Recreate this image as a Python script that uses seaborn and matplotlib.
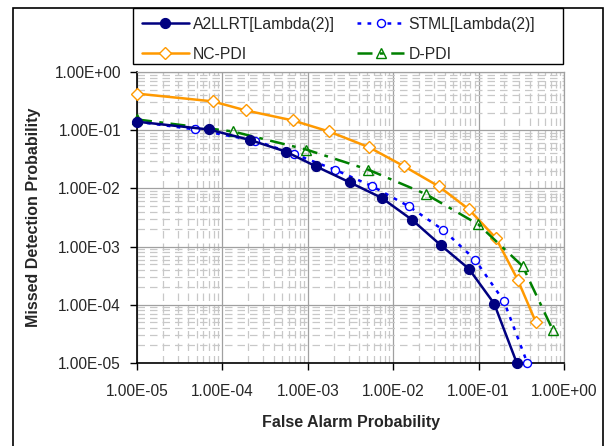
import numpy as np
import pandas as pd
import matplotlib
matplotlib.use("Agg")
import matplotlib.pyplot as plt
import seaborn as sns
from matplotlib.ticker import LogLocator, FuncFormatter, NullFormatter
from matplotlib.patches import Rectangle

# --- data ---
a2_pfa = [1e-5, 6.9e-5, 2.1e-4, 5.5e-4, 1.24e-3, 3.1e-3, 7.3e-3, 1.67e-2, 3.6e-2, 7.7e-2, 1.52e-1, 2.8e-1]
a2_pmd = [0.14, 0.103, 0.068, 0.043, 0.024, 0.0127, 0.0069, 0.00287, 0.00106, 4.15e-4, 1.05e-4, 1.0e-5]

stml_pfa = [1e-5, 4.8e-5, 2.43e-4, 6.9e-4, 2.07e-3, 5.6e-3, 1.53e-2, 3.85e-2, 9.06e-2, 1.98e-1, 3.72e-1]
stml_pmd = [0.14, 0.103, 0.066, 0.039, 0.021, 0.011, 4.9e-3, 1.93e-3, 6.0e-4, 1.15e-4, 1.0e-5]

nc_pfa = [1e-5, 7.7e-5, 1.87e-4, 6.7e-4, 1.77e-3, 5.2e-3, 1.34e-2, 3.43e-2, 7.69e-2, 1.6e-1, 2.86e-1, 4.7e-1]
nc_pmd = [0.425, 0.313, 0.219, 0.147, 0.095, 0.051, 0.024, 0.0108, 4.38e-3, 1.39e-3, 2.72e-4, 4.97e-5]

dp_pfa = [1e-5, 1.33e-4, 9.6e-4, 5.1e-3, 2.41e-2, 9.9e-2, 3.28e-1, 7.38e-1]
dp_pmd = [0.153, 0.095, 0.0465, 0.021, 7.98e-3, 2.41e-3, 4.6e-4, 3.7e-5]

series_names = ["A2LLRT[Lambda(2)]", "NC-PDI", "STML[Lambda(2)]", "D-PDI"]

sns.set_style("white")
plt.rcParams['font.family'] = ['Liberation Sans', 'DejaVu Sans']

W, H = 615, 446
fig = plt.figure(figsize=(W / 100, H / 100), dpi=100)
ax = fig.add_axes([137 / W, 1 - 363 / H, (564 - 137) / W, (363 - 72) / H])

# A2LLRT - navy, filled circles
sns.lineplot(x=a2_pfa, y=a2_pmd, ax=ax, sort=False, color="#000080", lw=1.8,
             marker="o", markersize=7.3, markeredgecolor="#000080",
             label=series_names[0], zorder=5, clip_on=False)
# NC-PDI - orange, open diamonds
sns.lineplot(x=nc_pfa, y=nc_pmd, ax=ax, sort=False, color="#FF9900", lw=1.8,
             marker="D", markersize=6.5, markerfacecolor="white",
             markeredgecolor="#FF9900", markeredgewidth=1.0,
             label=series_names[1], zorder=3, clip_on=False)
# STML - blue dotted, open circles
sns.lineplot(x=stml_pfa, y=stml_pmd, ax=ax, sort=False, color="#0000FF", lw=1.8,
             linestyle=(0, (1.5, 2.5)), marker="o", markersize=5.8,
             markerfacecolor="white", markeredgecolor="#0000FF",
             markeredgewidth=1.0, label=series_names[2], zorder=4, clip_on=False)
# D-PDI - green dash-dot, open triangles
sns.lineplot(x=dp_pfa, y=dp_pmd, ax=ax, sort=False, color="#008000", lw=1.8,
             linestyle=(0, (6, 3, 1.5, 3)), marker="^", markersize=7.5,
             markerfacecolor="none", markeredgecolor="#008000",
             markeredgewidth=1.0, label=series_names[3], zorder=3, clip_on=False)

ax.set_xscale("log")
ax.set_yscale("log")
ax.set_xlim(1e-5, 1)
ax.set_ylim(1e-5, 1)

fmt = FuncFormatter(lambda v, p: f"{v:.2E}")
for axis in (ax.xaxis, ax.yaxis):
    axis.set_major_locator(LogLocator(base=10, numticks=10))
    axis.set_minor_locator(LogLocator(base=10, subs=np.arange(2, 10), numticks=20))
    axis.set_major_formatter(fmt)
    axis.set_minor_formatter(NullFormatter())

ax.grid(True, which="major", color="#A0A0A0", lw=0.9, linestyle="-")
ax.grid(True, which="minor", color="#C8C8C8", lw=0.9, linestyle=(0, (6, 4)))
ax.set_axisbelow(True)

ax.tick_params(which="major", direction="out", length=5, width=1, color="black",
               labelsize=11.2, left=True, bottom=True)
ax.tick_params(axis="x", which="major", pad=10)
ax.tick_params(axis="y", which="major", pad=6.5)
ax.tick_params(which="minor", length=0)

for s in ("left", "bottom"):
    ax.spines[s].set_color("black")
    ax.spines[s].set_linewidth(1.2)
for s in ("top", "right"):
    ax.spines[s].set_color("#A0A0A0")
    ax.spines[s].set_linewidth(0.9)

ax.set_xlabel("False Alarm Probability", fontsize=11.5, fontweight="bold", labelpad=12)
ax.set_ylabel("Missed Detection Probability", fontsize=11.5, fontweight="bold", labelpad=10)

# legend entries without a frame; the box is drawn separately to match its width
handles, labels = ax.get_legend_handles_labels()
ax.get_legend().remove()
leg = fig.legend(handles, labels, ncol=2, loc="upper left",
                 bbox_to_anchor=(133 / W, 1 - 8 / H), borderaxespad=0,
                 frameon=False, fontsize=11.3, handlelength=3.0,
                 handletextpad=0.25, labelspacing=0.95, borderpad=0.55,
                 columnspacing=1.45)
fig.patches.append(Rectangle((133 / W, 1 - 64 / H), (563 - 133) / W, 56 / H,
                             transform=fig.transFigure, facecolor="white",
                             edgecolor="black", lw=1.0, zorder=1))

# chart-area border
fig.patches.append(Rectangle((13 / W, -0.01), (603 - 13) / W, 1.01 - 8 / H,
                             transform=fig.transFigure, fill=False,
                             edgecolor="black", lw=1.2, zorder=0))

fig.savefig("out.png", dpi=100)
